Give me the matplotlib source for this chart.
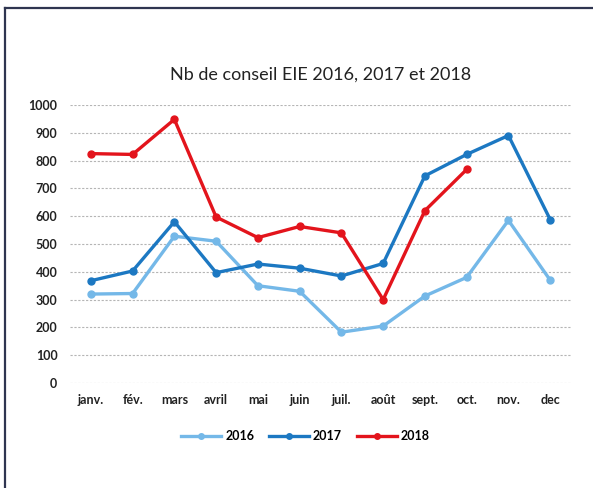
import matplotlib
matplotlib.use("Agg")
import matplotlib.pyplot as plt
from matplotlib.lines import Line2D

months = ["janv.", "fév.", "mars", "avril", "mai", "juin", "juil.", "août", "sept.", "oct.", "nov.", "dec"]
v2016 = [320, 322, 528, 510, 350, 330, 183, 205, 313, 380, 585, 370]
v2017 = [368, 403, 580, 397, 428, 413, 385, 430, 745, 822, 890, 588]
v2018 = [825, 822, 948, 597, 523, 563, 540, 300, 620, 768]
yticks = [0, 100, 200, 300, 400, 500, 600, 700, 800, 900, 1000]

plt.rcParams['font.family'] = ['Lato', 'DejaVu Sans']

fig = plt.figure(figsize=(5.93, 4.88), dpi=100)
fig.lines.append(Line2D([0.009, 0.009], [0.0, 0.984], transform=fig.transFigure,
                        color="#2f3550", linewidth=1.6))
fig.lines.append(Line2D([0.009, 1.0], [0.984, 0.984], transform=fig.transFigure,
                        color="#2f3550", linewidth=1.6))
ax = fig.add_axes([0.118, 0.215, 0.845, 0.57])

x = list(range(len(months)))
ax.plot(x, v2016, color="#74b8e8", lw=2.4, marker="o", ms=5, label="2016", zorder=3)
ax.plot(x, v2017, color="#1c78c2", lw=2.4, marker="o", ms=5, label="2017", zorder=4)
ax.plot(x[:len(v2018)], v2018, color="#e3141c", lw=2.4, marker="o", ms=5, label="2018", zorder=5)

ax.set_xlim(-0.5, len(months) - 0.5)
ax.set_ylim(0, 1000)
ax.set_yticks(yticks)
ax.set_xticks(x)
ax.set_xticklabels(months)
ax.tick_params(axis="both", length=0, labelsize=9, colors="#222222")
for lab in ax.get_xticklabels() + ax.get_yticklabels():
    lab.set_fontweight("bold")
ax.tick_params(axis="y", pad=9)
ax.tick_params(axis="x", pad=8)
ax.yaxis.grid(True, color="#b5b5b5", linestyle=(0, (2, 1.5)), linewidth=0.8)
ax.set_axisbelow(True)
for s in ax.spines.values():
    s.set_visible(False)

ax.set_title("Nb de conseil EIE 2016, 2017 et 2018", fontsize=13, color="#222222", pad=18)

ax.legend(loc="upper center", bbox_to_anchor=(0.47, -0.13), ncol=3, frameon=False,
          prop={"weight": "bold", "size": 9}, handlelength=3.2, columnspacing=1.2,
          handletextpad=0.3, markerscale=0.8)

fig.savefig("out.png", dpi=100)
